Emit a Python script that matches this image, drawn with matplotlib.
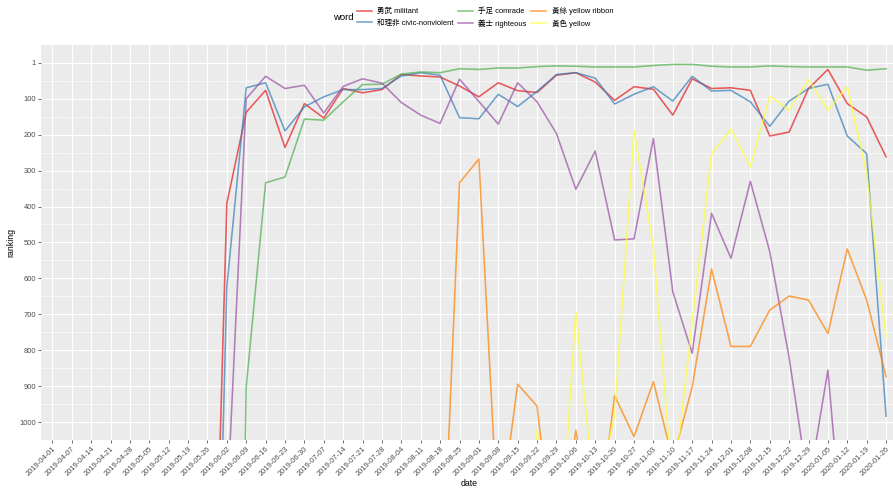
import matplotlib
matplotlib.use('Agg')
import matplotlib.pyplot as plt

plt.rcParams['font.family'] = ['Liberation Sans', 'Noto Sans CJK TC', 'DejaVu Sans']

# weekly dates (discrete axis)
dates = ['2019-04-01', '2019-04-07', '2019-04-14', '2019-04-21', '2019-04-28',
         '2019-05-05', '2019-05-12', '2019-05-19', '2019-05-26', '2019-06-02',
         '2019-06-09', '2019-06-16', '2019-06-23', '2019-06-30', '2019-07-07',
         '2019-07-14', '2019-07-21', '2019-07-28', '2019-08-04', '2019-08-11',
         '2019-08-18', '2019-08-25', '2019-09-01', '2019-09-08', '2019-09-15',
         '2019-09-22', '2019-09-29', '2019-10-06', '2019-10-13', '2019-10-20',
         '2019-10-27', '2019-11-03', '2019-11-10', '2019-11-17', '2019-11-24',
         '2019-12-01', '2019-12-08', '2019-12-15', '2019-12-22', '2019-12-29',
         '2020-01-05', '2020-01-12', '2020-01-19', '2020-01-26']

# rankings (values > 1050 fall below the visible range)
militant = [2450, 2380, 2510, 2290, 2400, 2350, 2330, 2310, 2300, 391,
            138, 77, 236, 114, 154, 72, 84, 75, 33, 37,
            40, 65, 95, 56, 78, 83, 35, 28, 54, 105,
            67, 74, 146, 45, 72, 70, 77, 204, 193, 72,
            19, 114, 151, 262]
civic = [2900, 2850, 2950, 2800, 2760, 2820, 2740, 2720, 2700, 623,
         70, 56, 190, 123, 95, 75, 75, 72, 37, 28,
         35, 153, 156, 88, 122, 80, 33, 28, 43, 115,
         88, 67, 107, 38, 79, 77, 109, 177, 107, 72,
         60, 204, 253, 983]
comrade = [4300, 4250, 4400, 4150, 4200, 4100, 4120, 4050, 4020, 4000,
           901, 334, 318, 157, 160, 109, 61, 60, 32, 26,
           28, 17, 19, 15, 15, 11, 9, 10, 12, 12,
           12, 8, 5, 5, 10, 12, 12, 9, 11, 12,
           12, 12, 21, 17]
righteous = [1950, 1900, 2000, 1880, 1920, 1860, 1870, 1840, 1800, 1250,
             100, 38, 72, 63, 140, 66, 45, 57, 111, 146,
             169, 46, 108, 171, 56, 109, 197, 352, 246, 493,
             490, 211, 637, 808, 419, 544, 330, 525, 820, 1180,
             855, 1480, 1900, 2100]
yellow_ribbon = [1800, 1780, 1850, 1760, 1790, 1740, 1720, 1700, 1690, 1680,
                 1670, 1660, 1650, 1700, 1680, 1660, 1640, 1650, 1630, 1620,
                 1613, 334, 268, 1300, 894, 955, 1430, 1022, 1350, 926,
                 1040, 887, 1105, 902, 574, 789, 789, 688, 649, 660,
                 753, 518, 660, 873]
yellow = [2200, 2150, 2250, 2100, 2120, 2080, 2060, 2050, 2000, 1980,
          1960, 1950, 1900, 1920, 1880, 1860, 1850, 1800, 1780, 1750,
          1700, 1650, 1600, 1500, 1400, 1020, 1500, 693, 1226, 980,
          188, 512, 1195, 722, 253, 185, 290, 93, 132, 47,
          132, 67, 308, 764]

words = ['勇武 militant', '和理非 civic-nonviolent', '手足 comrade',
         '義士 righteous', '黃絲 yellow ribbon', '黃色 yellow']
series = [militant, civic, comrade, righteous, yellow_ribbon, yellow]
colors = ['#E41A1C', '#377EB8', '#4DAF4A', '#984EA3', '#FF7F00', '#FFFF33']

y_major = [1, 100, 200, 300, 400, 500, 600, 700, 800, 900, 1000]
y_minor = [50.5, 150, 250, 350, 450, 550, 650, 750, 850, 950, 1050]

W, H = 893, 490
fig = plt.figure(figsize=(W / 100, H / 100), dpi=100)
ax = fig.add_axes([40.7 / W, 49.7 / H, 857 / W, 395.3 / H])
ax.set_facecolor('#EBEBEB')

x = list(range(len(dates)))
for name, vals, col in zip(words, series, colors):
    ax.plot(x, vals, color=col, lw=1.15, alpha=0.7, label=name)

ax.set_xlim(-0.6, 43.6)
ax.set_ylim(1050, -49)
ax.set_xticks(x)
ax.set_xticklabels(dates, rotation=45, ha='right', rotation_mode='anchor')
ax.set_yticks(y_major)
ax.set_yticklabels([str(v) for v in y_major])
ax.set_yticks(y_minor, minor=True)

ax.grid(which='major', color='white', lw=0.8)
ax.grid(which='minor', axis='y', color='white', lw=0.4)
ax.set_axisbelow(True)
for s in ax.spines.values():
    s.set_visible(False)
ax.tick_params(which='major', length=2, width=0.5, color='#333333',
               labelsize=5.4, labelcolor='#4D4D4D', pad=1.5)
ax.tick_params(which='minor', length=0)

ax.set_xlabel('date', fontsize=6.3)
ax.xaxis.set_label_coords(0.5, -0.098)
ax.set_ylabel('ranking', fontsize=6.3)
ax.yaxis.set_label_coords(-0.0294, 0.5)

# legend on top
fig.text(333 / W, 1 - 17 / H, 'word', fontsize=6.8, ha='left', va='center')
handles, labels = ax.get_legend_handles_labels()
leg = fig.legend(handles, labels, ncol=3, loc='center left',
                 bbox_to_anchor=(357 / W, 1 - 17.5 / H), frameon=False,
                 fontsize=5.4, handlelength=2.0, handletextpad=0.7,
                 columnspacing=0.6, labelspacing=0.55, borderpad=0,
                 borderaxespad=0)

fig.savefig('out.png', dpi=100)
